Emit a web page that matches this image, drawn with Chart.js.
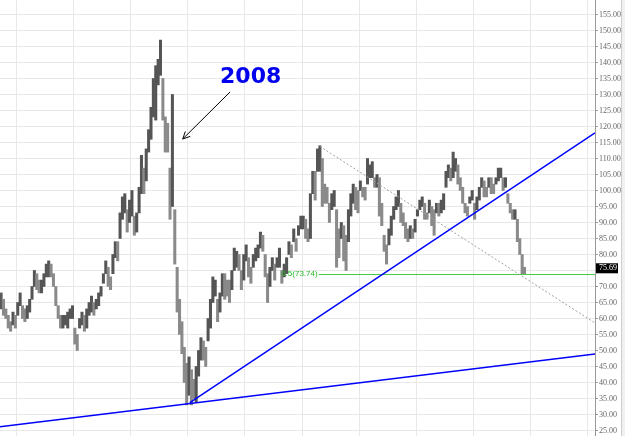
<!DOCTYPE html>
<html>
<head>
<meta charset="utf-8">
<script src="https://cdn.jsdelivr.net/npm/chart.js@4.4.1/dist/chart.umd.min.js"></script>
<style>
  body { margin: 0; background: #f0f0f0; }
  #wrap { width: 621px; height: 436px; background: #fff; border-right: 1px solid #cfcfcf; }
</style>
</head>
<body>
<div id="wrap"><canvas id="chart"></canvas></div>
<script>
// half-month price ranges, first one is 2nd half of Sep 2005
const firstPeriod = 2005 + 8.75 / 12;
const lows = [
    63, 61, 60, 57, 56, 58, 57,
    61, 64, 60, 59, 60, 62, 66, 70, 69, 68, 68, 70, 73, 73, 73, 70, 64, 60, 57, 57, 58, 57, 60, 60,
    52, 50, 57, 58, 56, 57, 61, 62, 61, 63, 64, 67, 71, 74, 70, 69, 74, 79, 78, 85, 91, 93, 87, 90,
    92, 86, 87, 93, 99, 99, 103, 112, 116, 123, 122, 133, 136, 122, 112, 112, 91, 95, 77, 62, 55, 49, 40, 33,
    36, 33, 35, 34, 42, 47, 47, 45, 53, 57, 65, 67, 59, 62, 67, 66, 67, 65, 69, 75, 76, 75, 69, 72,
    78, 73, 71, 76, 78, 79, 82, 81, 73, 65, 70, 75, 72, 76, 76, 71, 73, 74, 80, 79, 84, 81, 86, 88,
    88, 85, 84, 85, 99, 97, 106, 106, 95, 96, 96, 90, 94, 95, 76, 79, 85, 78, 75, 84, 92, 96, 94, 93,
    100, 98, 97, 102, 104, 104, 101, 101, 92, 89, 81, 77, 83, 86, 91, 94, 95, 90, 89, 85, 84, 85, 85, 87,
    92, 94, 95, 91, 91, 93, 89, 86, 93, 92, 93, 94, 101, 104, 103, 104, 106, 102, 100, 96, 93, 92, 96, 97,
    91, 94, 97, 101, 98, 98, 101, 99, 99, 102, 103, 104, 100, 101, 96, 93, 91, 91, 84, 80, 74, 73.7
];
const highs = [
    68, 66, 63, 61, 59, 62, 61,
    65, 68, 64, 63, 64, 66, 70, 75, 74, 72, 72, 74, 77, 78, 77, 74, 70, 64, 61, 61, 61, 62, 63, 64,
    57, 55, 60, 62, 61, 63, 65, 67, 65, 66, 68, 70, 74, 78, 76, 73, 80, 84, 84, 93, 98, 99, 94, 97,
    100, 92, 93, 101, 111, 107, 113, 119, 126, 135, 139, 141, 147, 135, 123, 121, 107, 130, 94, 76, 66, 59, 51, 46,
    48, 44, 41, 45, 50, 54, 53, 51, 60, 66, 73, 72, 66, 68, 74, 74, 72, 72, 75, 82, 81, 80, 75, 80,
    83, 79, 76, 80, 82, 83, 87, 86, 80, 74, 76, 79, 77, 79, 82, 75, 77, 79, 84, 83, 88, 85, 89, 92,
    92, 91, 88, 99, 106, 106, 113, 114, 110, 102, 101, 96, 99, 100, 94, 88, 90, 89, 86, 94, 99, 102, 101, 100,
    103, 101, 101, 110, 108, 109, 104, 105, 104, 96, 86, 83, 88, 92, 95, 98, 100, 96, 93, 90, 88, 89, 88, 91,
    94, 97, 98, 96, 93, 97, 95, 94, 96, 96, 97, 99, 106, 108, 107, 112, 110, 108, 104, 101, 96, 95, 98, 100,
    96, 98, 101, 104, 103, 101, 104, 104, 102, 104, 107, 107, 104, 104, 99, 96, 94, 94, 91, 85, 80, 76
];
const lastPrice = 75.69;
const fibLevel = 73.74;

// trend lines [year, price]
const supportLong = [[2005.71, 26.2], [2016.13, 48.9]];
const supportSteep = [[2009.035, 33.7], [2016.13, 118.0]];
const resistDotted = [[2011.31, 113.8], [2016.13, 58.6]];
const fibLine = [[2011.29, fibLevel], [2016.13, fibLevel]];

const xMin = 2005.71, xMax = 2016.13;
const yMin = 23.28, yMax = 159.53;

const priceData = lows.map((lo, i) => ({ x: firstPeriod + i / 24, y: [lo, highs[i]] }));
const priceColors = lows.map((lo, i) => {
    if (i === 0) return '#5a5a5a';
    return (lo + highs[i]) >= (lows[i - 1] + highs[i - 1]) ? '#555555' : '#8a8a8a';
});
const toPts = arr => arr.map(p => ({ x: p[0], y: p[1] }));

const annotations = {
    id: 'annotations',
    afterDraw(chart) {
        const ctx = chart.ctx;
        const x = chart.scales.x, y = chart.scales.y;

        // 2008 label + arrow
        ctx.save();
        ctx.font = 'bold 22px "DejaVu Sans"';
        ctx.fillStyle = '#0000ee';
        ctx.textAlign = 'center';
        ctx.textBaseline = 'middle';
        ctx.fillText('2008', x.getPixelForValue(2010.1), y.getPixelForValue(135.5));

        const x1 = x.getPixelForValue(2009.74), y1 = y.getPixelForValue(130.8);
        const x2 = x.getPixelForValue(2008.91), y2 = y.getPixelForValue(116.1);
        ctx.strokeStyle = '#000';
        ctx.lineWidth = 1;
        ctx.beginPath();
        ctx.moveTo(x1, y1);
        ctx.lineTo(x2, y2);
        const ang = Math.atan2(y2 - y1, x2 - x1);
        ctx.moveTo(x2, y2);
        ctx.lineTo(x2 - 8 * Math.cos(ang - 0.45), y2 - 8 * Math.sin(ang - 0.45));
        ctx.moveTo(x2, y2);
        ctx.lineTo(x2 - 8 * Math.cos(ang + 0.45), y2 - 8 * Math.sin(ang + 0.45));
        ctx.stroke();

        // fib label
        ctx.font = '8px "Liberation Sans"';
        ctx.fillStyle = '#22bb22';
        ctx.textAlign = 'right';
        ctx.textBaseline = 'middle';
        ctx.fillText('0.5(' + fibLevel.toFixed(2) + ')', x.getPixelForValue(fibLine[0][0]) - 1, y.getPixelForValue(fibLevel) - 1);

        // last price box on the axis
        const py = y.getPixelForValue(lastPrice);
        ctx.fillStyle = '#000';
        ctx.fillRect(y.left + 1, py - 5, 22, 10);
        ctx.font = '8px "Liberation Sans Narrow"';
        ctx.fillStyle = '#fff';
        ctx.textAlign = 'left';
        ctx.fillText(lastPrice.toFixed(2), y.left + 4, py);
        ctx.restore();
    }
};

new Chart(document.querySelector('#chart'), {
    type: 'bar',
    data: {
        datasets: [
            {
                type: 'line', data: toPts(supportLong), borderColor: '#0000ff', borderWidth: 1.5,
                pointRadius: 0, order: 0
            },
            {
                type: 'line', data: toPts(supportSteep), borderColor: '#0000ff', borderWidth: 1.5,
                pointRadius: 0, order: 0
            },
            {
                type: 'line', data: toPts(resistDotted), borderColor: '#a0a0a0', borderWidth: 1,
                borderDash: [2, 2], pointRadius: 0, order: 0
            },
            {
                type: 'line', data: toPts(fibLine), borderColor: '#44cc44', borderWidth: 1,
                pointRadius: 0, order: 0
            },
            {
                data: priceData, backgroundColor: priceColors, borderWidth: 0,
                barPercentage: 1, categoryPercentage: 1, order: 1
            }
        ]
    },
    options: {
        responsive: true,
        maintainAspectRatio: false,
        animation: false,
        layout: { padding: 0 },
        plugins: { legend: { display: false }, tooltip: { enabled: false } },
        scales: {
            x: {
                type: 'linear', min: xMin, max: xMax, offset: false,
                ticks: { display: false, stepSize: 1, includeBounds: false },
                grid: { color: '#e8e8e8', drawTicks: false, offset: false },
                border: { display: false },
                afterFit: s => { s.height = 0; s.paddingLeft = 0; s.paddingRight = 0; }
            },
            y: {
                position: 'right', min: yMin, max: yMax,
                ticks: {
                    stepSize: 5, includeBounds: false, padding: 1, color: '#666',
                    font: { family: 'Liberation Sans Narrow', size: 8 },
                    callback: v => v.toFixed(2)
                },
                grid: { color: '#e8e8e8', tickLength: 3, tickColor: '#999' },
                border: { color: '#999' },
                afterFit: s => { s.width = 26; s.paddingTop = 0; s.paddingBottom = 0; }
            }
        }
    },
    plugins: [annotations]
});
</script>
</body>
</html>
